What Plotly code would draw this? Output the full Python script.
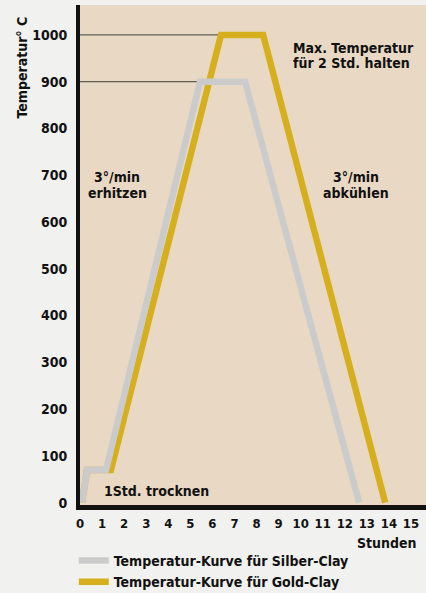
import plotly.graph_objects as go

# ---- data (hours, °C) ----
silver_hours = [0.09, 0.32, 1.18, 5.44, 7.48, 12.65]
silver_temps = [0, 70, 70, 900, 900, 0]
gold_hours = [0.09, 0.32, 1.4, 6.39, 8.3, 13.83]
gold_temps = [0, 70, 70, 1000, 1000, 0]
x_ticks = list(range(0, 16))
y_ticks = list(range(0, 1001, 100))
silver_name = "Temperatur-Kurve für Silber-Clay"
gold_name = "Temperatur-Kurve für Gold-Clay"

FONT = "DejaVu Sans Condensed, Liberation Sans Narrow, Arial Narrow, sans-serif"
FS = 14
SILVER = "#cbcbcb"
GOLD = "#d6af1f"
BEIGE = "#e9d9c4"
PAPER = "#f1f1ef"

fig = go.Figure()
# reference lines to the hold plateaus
fig.add_trace(go.Scatter(x=[0, gold_hours[3]], y=[gold_temps[3]] * 2, mode="lines",
                         line=dict(color="#5e5e55", width=1.2), showlegend=False, hoverinfo="skip"))
fig.add_trace(go.Scatter(x=[0, silver_hours[3]], y=[silver_temps[3]] * 2, mode="lines",
                         line=dict(color="#5e5e55", width=1.2), showlegend=False, hoverinfo="skip"))
fig.add_trace(go.Scatter(x=gold_hours, y=gold_temps, mode="lines", name=gold_name,
                         line=dict(color=GOLD, width=6.5), legendrank=2))
fig.add_trace(go.Scatter(x=silver_hours, y=silver_temps, mode="lines", name=silver_name,
                         line=dict(color=SILVER, width=6.5), legendrank=1))

def ann(x, y, text, xanchor="center", xref="x", yref="y", angle=0):
    fig.add_annotation(x=x, y=y, xref=xref, yref=yref, text="<b>%s</b>" % text, showarrow=False,
                       xanchor=xanchor, yanchor="middle", textangle=angle,
                       font=dict(family=FONT, size=FS, color="#111"))

ann(9.57, 973, "Max. Temperatur", xanchor="left")
ann(9.57, 941, "für 2 Std. halten", xanchor="left")
ann(12.52, 696, "3°/min")
ann(12.52, 661, "abkühlen")
ann(1.68, 696, "3°/min")
ann(1.68, 661, "erhitzen")
ann(1.0, 26, "1Std. trocknen", xanchor="left")
ann(0.98, -0.076, "Stunden", xanchor="right", xref="paper", yref="paper")
ann(-0.169, 0.874, "Temperatur° C", xref="paper", yref="paper", angle=-90)

fig.update_layout(
    width=426, height=593,
    margin=dict(l=80, r=0, t=5, b=88, autoexpand=False),
    paper_bgcolor=PAPER, plot_bgcolor=BEIGE,
    font=dict(family=FONT, size=FS, color="#111", weight="bold"),
    showlegend=True,
    legend=dict(x=-0.018, y=-0.08, xanchor="left", yanchor="top", bgcolor="rgba(0,0,0,0)",
                font=dict(family=FONT, size=FS, color="#111", weight="bold"),
                itemwidth=30, tracegroupgap=0),
)
fig.update_xaxes(range=[0, 15.68], tickvals=x_ticks, showgrid=False, zeroline=False,
                 showline=True, linecolor="#111", linewidth=5, ticks="",
                 ticklabelstandoff=2, tickfont=dict(family=FONT, size=13, weight="bold"))
fig.update_yaxes(range=[-5, 1064], tickvals=y_ticks, showgrid=False, zeroline=False,
                 showline=True, linecolor="#111", linewidth=4, ticks="",
                 ticklabelstandoff=6, tickfont=dict(family=FONT, size=FS, weight="bold"))

fig.write_html("out.html", config={"displayModeBar": False},
               post_script="document.body.style.margin='0';document.body.style.overflow='hidden';")
